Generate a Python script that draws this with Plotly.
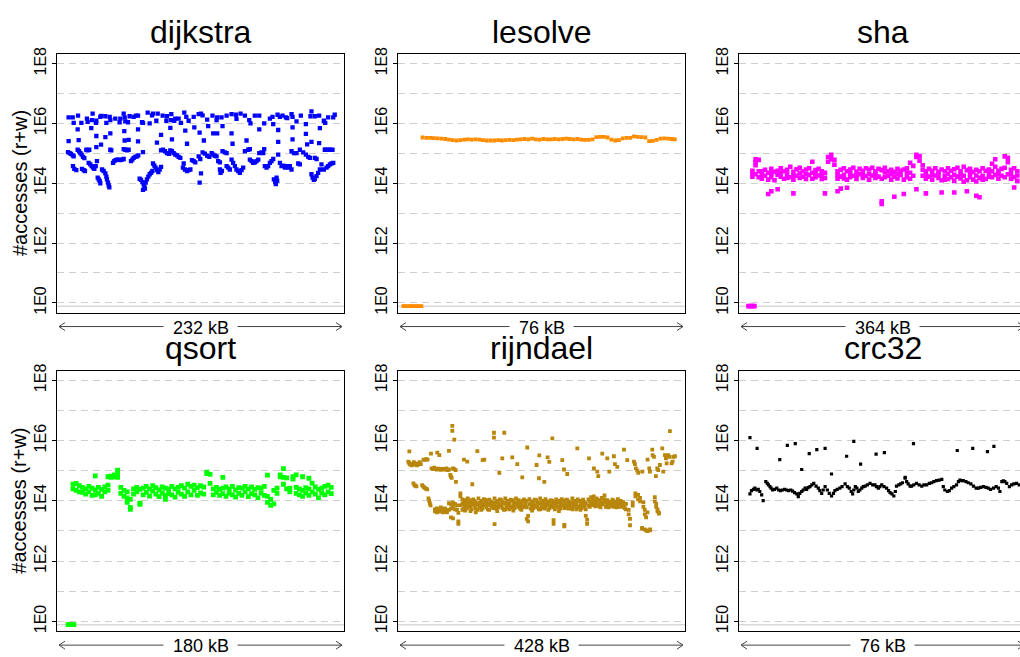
import plotly.graph_objects as go

# ---------------- data (address offset in kB, log10 of #accesses) ----------------
sizes_kb = {"dijkstra": 232, "lesolve": 76, "sha": 364, "qsort": 180, "rijndael": 428, "crc32": 76}
size_labels = {"dijkstra": "232 kB", "lesolve": "76 kB", "sha": "364 kB",
               "qsort": "180 kB", "rijndael": "428 kB", "crc32": "76 kB"}
colors = {"dijkstra": "#0000FF", "lesolve": "#FF8C00", "sha": "#FF00FF",
          "qsort": "#00FF00", "rijndael": "#B8860B", "crc32": "#000000"}
tick_vals = [1, 1e2, 1e4, 1e6, 1e8]
tick_text = ["1E0", "1E2", "1E4", "1E6", "1E8"]
minor_vals = [10, 1e3, 1e5, 1e7]
ZERO_LOG = -0.11  # pages with no accesses, drawn just under 1E0

dijkstra_upper = [(9.4,6.20),(12.7,6.20),(13.5,6.02),(17.0,6.26),(19.7,6.02),(24.2,6.16),(24.8,6.05),(28.8,6.33),(28.3,6.11),(31.8,6.09),(31.5,6.02),(35.0,6.22),(35.8,6.25),(39.1,6.24),(39.9,6.02),(42.6,6.22),(43.1,6.11),(47.1,6.16),(51.2,6.16),(50.6,6.04),(53.9,6.33),(54.7,6.20),(55.2,6.07),(58.7,6.24),(57.4,6.04),(62.0,6.22),(63.8,6.26),(65.5,6.26),(68.7,6.04),(69.5,6.02),(73.3,6.36),(74.9,6.00),(76.8,6.27),(77.6,6.33),(80.3,6.09),(81.4,6.33),(85.4,6.26),(88.4,6.09),(88.9,6.24),(92.4,6.31),(92.1,6.11),(95.6,6.16),(94.8,6.09),(98.3,6.16),(100.2,6.02),(102.9,6.36),(104.5,6.22),(106.4,6.09),(110.5,6.22),(114.5,6.31),(116.4,6.33),
                  (117.7,6.27),(121.4,6.13),(125.7,6.26),(129.0,6.11),(129.5,6.20),(133.0,6.20),(137.1,6.26),(141.1,6.31),(144.6,6.29),(145.1,6.15),(148.4,6.33),(151.9,6.26),(155.4,6.11),(156.4,6.00),(159.9,6.26),(163.5,6.26),(167.5,6.00),(172.1,6.16),(174.2,6.22),(178.3,6.29),(180.2,6.22),(182.3,6.26),(185.0,6.20),(186.1,6.18),(189.6,6.31),(190.4,6.22),(193.6,6.07),(197.1,6.26),(201.2,5.98),(204.9,6.24),(205.7,6.40),(208.4,6.24),(211.9,6.26),(215.7,6.09),(216.8,6.02),(219.2,6.20),(223.3,6.20),(224.5,6.29)]
dijkstra_mid = [(16.7,5.80),(27.7,5.84),(31.8,5.58),(39.1,5.54),(43.1,5.67),(54.4,5.74),(54.7,5.43),(57.9,5.45),(65.5,5.80),(65.5,5.40),(80.8,5.36),(84.1,5.62),(91.6,5.85),(92.9,5.47),(103.7,5.76),(105.1,5.32),(111.0,5.87),(115.3,5.69),(9.4,5.41),(17.5,5.44),(35.6,5.29),(31.8,5.21),
                (118.7,5.43),(122.2,5.91),(126.3,5.67),(129.5,5.67),(133.8,5.91),(141.1,5.67),(141.9,5.32),(153.2,5.43),(163.5,5.80),(167.5,5.14),(174.8,5.98),(178.8,5.78),(178.8,5.38),(190.4,5.87),(190.4,5.47),(201.2,5.65),(202.2,5.30),(205.7,5.38),(212.5,5.84),(211.9,5.34),(216.8,5.12),(220.6,5.12),(222.7,5.12)]
dijkstra_low = [(8.9,5.04),(10.2,5.01),(11.3,4.98),(12.7,4.93),(13.5,4.90),(12.9,4.57),(14.0,4.48),(15.6,4.44),
                (16.7,5.12),(17.8,5.07),(18.9,5.01),(19.9,4.96),(21.0,4.88),(22.1,4.84),(23.7,5.12),(24.8,5.10),(26.1,5.12),
                (20.2,4.48),(21.6,4.44),(22.6,4.41),(25.6,4.68),(26.9,4.63),(28.0,4.57),(29.1,4.52),(30.2,4.48),(31.3,4.57),(32.3,4.74),
                (32.9,4.19),(33.7,4.13),(34.5,4.08),(35.0,4.00),(36.4,4.46),(37.7,4.41),(39.1,4.33),(39.9,4.22),(40.4,4.13),(41.2,4.02),(41.8,3.93),(42.3,3.86),
                (43.1,5.12),(43.9,5.10),(45.3,4.68),(46.3,4.74),(47.4,4.77),(48.5,4.79),(49.8,4.79),(51.2,4.77),(52.5,4.79),(53.9,4.81),
                (53.9,5.14),(55.2,5.12),(56.6,5.10),(57.9,5.12),(59.8,4.74),(60.9,4.79),(62.0,4.85),(63.3,4.88),(64.7,4.90),(65.7,4.93),(69.5,5.04),
                (66.8,4.15),(67.9,4.11),(69.0,4.04),(70.0,3.97),(70.6,3.89),(71.1,3.82),(69.5,3.78),(71.7,4.02),(72.7,4.13),(73.8,4.22),(74.9,4.30),(76.0,4.35),(77.1,4.41),
                (77.6,4.66),(78.7,4.59),(79.7,4.52),(80.8,4.44),(81.9,4.37),(83.0,4.46),(84.1,4.55),
                (84.1,5.10),(85.7,5.12),(87.3,5.07),(88.9,5.01),(90.5,4.98),(91.6,5.10),(92.9,5.07),(94.3,5.01),(95.6,4.96),(97.0,4.93),(98.3,4.88),(99.7,4.85),
                (101.8,4.52),(103.4,4.46),(105.1,4.41),(106.4,4.44),(107.8,4.46),(109.1,4.77),(110.5,4.74),(111.8,4.70),(102.4,4.66),
                (114.5,4.90),(115.8,4.81),(116.4,4.33),(115.3,4.02),
                (117.7,5.03),(119.5,4.99),(121.4,4.92),(123.1,4.88),(125.0,5.01),(126.3,4.96),(127.6,4.92),(129.0,4.90),(130.3,4.74),(131.7,4.70),
                (131.7,4.46),(132.2,4.35),(133.3,4.41),(133.8,5.07),(135.7,5.03),(137.1,5.01),
                (137.1,4.57),(138.4,4.52),(139.7,4.46),(141.1,4.79),(142.4,4.68),(143.8,4.57),(145.1,4.46),(146.5,4.41),(147.8,4.35),(149.2,4.44),(150.5,4.52),
                (151.9,5.07),(154.6,5.12),(155.9,5.14),(155.9,4.79),(157.3,4.74),(158.6,4.68),(160.0,4.70),(161.3,4.74),(162.7,4.79),
                (163.5,5.01),(165.3,5.03),(166.7,5.01),(168.0,4.57),(169.4,4.52),(170.7,4.57),(172.1,4.68),(173.4,4.74),(174.8,4.81),
                (175.3,4.13),(176.4,4.04),(176.9,3.97),(178.0,4.08),(177.5,4.19),
                (178.8,4.96),(180.2,4.68),(181.5,4.57),(182.9,4.59),(184.2,4.52),(185.5,4.57),(186.9,4.52),(188.2,4.57),(189.6,4.46),
                (189.6,5.07),(191.5,5.01),(193.6,5.01),(195.0,4.66),(196.3,4.63),
                (196.3,5.12),(199.0,5.03),(201.2,4.96),(203.1,4.88),(204.4,4.85),
                (205.7,4.30),(206.6,4.19),(207.6,4.11),(208.4,4.15),(209.8,4.24),(211.1,4.35),(212.5,4.46),(213.8,4.63),
                (208.4,4.85),(209.8,4.81),(216.5,5.12),(219.2,5.12),
                (215.7,4.46),(217.9,4.52),(219.2,4.57),(220.6,4.63),(221.9,4.66),(223.3,4.68)]

lesolve_zero_kb = [1.4, 2.0, 2.6, 3.2, 3.8, 4.4, 5.0, 5.6, 6.2]
lesolve_band = [(6.5,5.53),(7.5,5.52),(8.5,5.52),(9.5,5.51),(10.5,5.50),(11.5,5.49),(12.5,5.48),(13.5,5.46),(14.5,5.44),(15.5,5.43),(16.5,5.44),(17.5,5.46),(18.5,5.47),(19.5,5.46),(20.5,5.47),(21.5,5.46),(22.5,5.44),(23.5,5.43),(24.5,5.43),(25.5,5.43),(26.5,5.44),(27.5,5.43),(28.5,5.44),(29.5,5.45),(30.5,5.44),(31.5,5.46),(32.5,5.47),(33.5,5.48),(34.5,5.47),(35.5,5.49),(36.5,5.47),(37.5,5.46),(38.5,5.48),(39.5,5.47),(40.5,5.47),(41.5,5.48),(42.5,5.47),(43.5,5.48),(44.5,5.49),(45.5,5.48),(46.5,5.47),(47.5,5.48),(48.5,5.46),(49.5,5.45),(50.5,5.45),(51.5,5.47),(52.5,5.54),(53.5,5.55),(54.5,5.55),(55.5,5.53),(56.5,5.46),(57.5,5.43),(58.5,5.44),(59.5,5.50),(60.5,5.52),(61.5,5.52),(62.5,5.57),(63.5,5.55),(64.5,5.54),(65.5,5.53),(66.5,5.41),(67.5,5.42),(68.5,5.45),(69.5,5.49),(70.5,5.50),(71.5,5.49),(72.5,5.48),(73.3,5.47)]

sha_zero_kb = [12.0, 14.5, 17.0, 19.5]
sha_band = [(17,[4.42,4.22,4.32]),(21,[4.60,4.30,4.80,4.70]),(25,[4.78,4.40,4.20]),(29,[4.40,4.15,4.28]),(33,[4.45,4.25]),(37,[4.35,4.12,3.64]),(41,[4.48,4.20,3.73,4.33]),(45,[4.38,4.10]),(49,[4.42,4.28,3.80]),(53,[4.50,4.22,4.36]),(57,[4.40,4.15]),(61,[4.45,4.30,4.18]),(65,[4.55,4.20]),(69,[4.38,4.12,3.66,4.26]),(73,[4.47,4.25]),(77,[4.52,4.18,4.34]),(81,[4.40,4.22]),(85,[4.46,4.14,4.30]),(89,[4.50,4.28]),(93,[4.72,4.35,4.15]),(97,[4.44,4.20,4.32]),(101,[4.48,4.26]),(105,[4.40,4.14,4.28]),(109,[4.35,4.18,3.66]),(113,[4.72,4.88]),(117,[4.95,4.80]),(121,[4.78,4.62]),(125,[4.40,4.15,3.73,4.28]),(129,[4.45,4.22,3.82]),(133,[4.50,4.28,4.16]),(137,[4.40,4.12,3.85]),(141,[4.46,4.20,4.33]),(145,[4.52,4.25]),(149,[4.38,4.14,4.26]),(153,[4.48,4.30]),(157,[4.42,4.18,4.30]),(161,[4.50,4.24]),(165,[4.46,4.12,4.30]),(169,[4.52,4.26]),(173,[4.40,4.18,4.30]),(177,[4.48,4.22]),(181,[4.44,4.15,3.31,3.40]),(185,[4.52,4.20,4.36]),(189,[4.40,4.25]),(193,[4.45,4.12,4.30]),(197,[4.38,4.22,3.55]),(201,[4.48,4.16,4.32]),(205,[4.42,4.28]),(209,[4.46,4.12,3.64]),(213,[4.50,4.20,4.35]),(217,[4.68,4.35,4.15]),(221,[4.58,4.25]),(225,[4.95,4.88,3.80]),(229,[4.90,4.75]),(233,[4.60,4.45,4.25]),(237,[4.40,4.15,3.66,4.28]),(241,[4.48,4.22]),(245,[4.42,4.12,4.28]),(249,[4.50,4.26]),(253,[4.38,4.18,4.30]),(257,[4.46,4.10,3.69]),(261,[4.40,4.24,4.12]),(265,[4.50,4.14,4.32]),(269,[4.42,4.20]),(273,[4.47,4.08,3.69,4.28]),(277,[4.52,4.22]),(281,[4.40,4.16,4.30]),(285,[4.55,4.05,4.25]),(289,[4.44,4.10,3.73]),(293,[4.48,4.20,4.34]),(297,[4.38,4.12]),(301,[4.45,4.06,3.58,4.26]),(305,[4.40,4.18,3.53]),(309,[4.50,4.25,4.12]),(313,[4.42,4.14]),(317,[4.46,4.22,4.34]),(321,[4.65,4.40,4.20]),(325,[4.80,4.55,4.28]),(329,[4.42,4.15,4.30]),(333,[4.48,4.25]),(337,[4.90,4.52,4.20]),(341,[4.85,4.70,4.30]),(345,[4.45,4.15,4.30]),(349,[4.50,4.20,3.86]),(353,[4.40,4.08,4.26])]

qsort_zero_kb = [7.0, 8.2, 9.4, 10.6]
qsort_band = [(10,[4.55,4.40]),(12,[4.58,4.35]),(14,[4.50,4.30]),(16,[4.45,4.28]),(18,[4.40,4.22]),(20,[4.48,4.30]),(22,[4.42,4.18]),(24,[4.83,4.36,4.20]),(26,[4.45,4.25]),(28,[4.38,4.15]),(30,[4.46,4.30]),(32,[4.52,4.35,4.80]),(34,[4.78,4.82]),(36,[4.86,4.80]),(38,[4.90,5.02,4.78]),(40,[4.45,4.25]),(42,[4.35,4.15]),(44,[4.30,4.10,3.95]),(46,[4.05,3.78,3.72]),(48,[4.40,4.22]),(50,[4.45,4.30]),(52,[4.38,3.92,3.88]),(54,[4.42,4.20]),(56,[4.48,4.28]),(58,[4.40,4.16]),(60,[4.50,4.32]),(62,[4.44,4.22]),(64,[4.36,4.14]),(66,[4.46,4.26]),(68,[4.42,4.18,4.05]),(70,[4.38,4.24]),(72,[4.48,4.20]),(74,[4.40,4.12]),(76,[4.45,4.28]),(78,[4.50,4.22]),(80,[4.42,4.15]),(82,[4.55,4.30]),(84,[4.48,4.20]),(86,[4.52,4.35]),(88,[4.44,4.18]),(90,[4.50,4.26]),(92,[4.46,4.22]),(94,[4.95,4.90]),(96,[4.88,4.58]),(98,[4.40,4.20]),(100,[4.45,4.28]),(102,[4.38,4.18]),(104,[4.78,4.42,4.24]),(106,[4.46,4.15]),(108,[4.40,4.26]),(110,[4.48,4.20]),(112,[4.36,4.12]),(114,[4.44,4.25]),(116,[4.42,4.18]),(118,[4.48,4.30]),(120,[4.40,4.14]),(122,[4.46,4.24]),(124,[4.38,4.20]),(126,[4.44,4.10]),(128,[4.42,4.26]),(130,[4.48,4.18]),(132,[4.85,4.15,3.95]),(134,[4.05,3.85]),(136,[4.35,3.90]),(138,[4.42,4.25]),(140,[4.80,4.86]),(142,[4.78,5.07,4.55]),(144,[4.76,4.40]),(146,[4.42,4.30]),(148,[4.80,4.72]),(150,[4.86,4.45,4.25]),(152,[4.40,4.20]),(154,[4.80,4.35,4.15]),(156,[4.44,4.26]),(158,[4.75,4.40,4.18]),(160,[4.59,4.30]),(162,[4.46,4.22]),(164,[4.38,4.10]),(166,[4.42,4.26]),(168,[4.48,4.20]),(170,[4.52,4.30]),(172,[4.45,4.24])]

rijndael_upper = [(16.9,5.64),(49.2,5.57),(58.6,5.60),(61.6,5.52),(76.0,5.66),(81.0,6.49),(81.0,6.32),(84.0,6.03),(86.4,4.63),(98.4,5.37),(103.3,5.30),(110.8,4.55),(118.3,5.65),(126.2,5.35),(128.7,5.37),(143.1,6.26),(143.1,6.10),(151.1,4.93),(155.5,5.41),(158.5,6.26),(170.4,5.44),(177.9,5.22),(185.3,4.78),(192.8,5.77),(206.7,5.19),(210.2,4.75),(210.7,5.51),(218.2,4.63),(223.1,5.44),(225.6,5.29),(230.1,6.07),(245.0,5.35),(247.5,5.04),(252.4,4.89),(267.4,5.74),(284.8,5.41),(292.2,5.08),(297.2,4.97),(298.7,4.82),(304.6,5.57),(312.1,5.41),(315.1,4.97),(322.0,5.48),(323.5,5.22),(327.0,5.13),(337.0,5.70),(341.9,5.35),(351.9,5.30),(353.3,5.22),(354.8,5.08),(356.8,5.00),(358.3,4.93),(364.3,4.97),(372.2,5.37),(374.7,5.08),(375.7,4.97),(379.2,5.70),(379.7,5.52),(381.7,5.46),(384.6,4.82),(386.6,5.08),(388.1,5.02),(390.6,5.19),(394.1,5.74),(395.6,4.97),(398.1,5.52),(399.6,5.41),(400.6,5.24),(403.0,5.52),(404.5,5.46),(405.5,6.31),(408.0,5.24),(409.5,5.30),(410.5,5.46),(413.0,5.48)]
rijndael_left = [(15.4,5.30),(16.5,5.26),(17.5,5.22),(18.5,5.20),(19.5,5.22),(20.5,5.18),(22.0,5.20),(23.5,5.28),(25.0,5.25),(26.5,5.22),(28.0,5.18),(29.5,5.20),(31.0,5.24),(32.5,5.28),(34.0,5.22),
                 (23.0,4.58),(24.5,4.52),(26.0,4.50),(27.5,4.48),(36.0,4.52),(37.5,4.48),(39.0,4.45),(40.5,4.42),(42.0,4.40),(43.5,4.38),
                 (38.0,5.37),(40.0,5.36),(42.0,5.38),(44.0,5.37),(45.5,4.08),(46.5,4.00),(47.5,3.92),(48.5,3.85),
                 (50.0,5.08),(52.0,5.05),(54.0,5.10),(56.0,5.06),(58.0,5.04),(60.0,5.07),(62.0,5.05),(64.0,5.03),(66.0,5.06),(68.0,5.05),(70.0,5.04),(72.0,5.08),(74.0,5.02),(76.0,5.04),(78.0,4.86),(79.0,4.80),(80.0,4.76),(82.0,5.08),(84.0,5.05),(86.0,5.02)]
rijndael_band = [(55,[3.72,3.65]),(58,[3.75,3.62]),(61,[3.70,3.64]),(64,[3.78,3.66]),(67,[3.72,3.62]),(70,[3.75,3.66]),(73,[3.70,3.62]),(76,[3.92,3.70]),(79,[3.88,3.74,3.45]),(82,[3.95,3.80,3.42]),(85,[3.90,3.72]),(88,[3.85,3.70]),(90,[3.32,3.24,3.60]),(93,[4.25,4.15,3.85]),(96,[4.05,3.90,3.70]),(100,[4.02,3.85,3.68]),(104,[4.08,3.92,3.78]),(108,[3.98,3.82,3.66]),(112,[4.05,3.88]),(116,[3.95,3.76,3.62]),(120,[4.08,3.90]),(124,[4.00,3.82,3.70]),(128,[4.06,3.86]),(132,[3.98,3.78]),(136,[4.04,3.90,3.70]),(140,[3.96,3.82]),(144,[4.08,3.86,3.23]),(148,[4.00,3.80,3.66]),(152,[4.05,3.88]),(156,[3.96,3.76]),(160,[4.08,3.90,3.72]),(164,[4.00,3.84]),(168,[4.04,3.78]),(172,[3.98,3.86,3.68]),(176,[4.08,3.90]),(180,[4.02,3.80]),(184,[3.96,3.86,3.70]),(188,[4.05,3.82]),(192,[4.00,3.78,3.40]),(194,[3.32,3.50]),(196,[4.06,3.88]),(200,[3.98,3.80,3.68]),(204,[4.04,3.86]),(208,[3.96,3.78]),(212,[4.08,3.90,3.72]),(216,[4.00,3.84]),(220,[4.06,3.80]),(224,[3.98,3.88,3.70]),(228,[4.02,3.82]),(232,[3.96,3.78,3.24,3.36]),(236,[4.05,3.86]),(240,[4.00,3.80,3.66]),(244,[4.06,3.88]),(248,[3.98,3.76,3.15,3.20]),(252,[4.04,3.86]),(256,[3.96,3.82]),(260,[4.08,3.90,3.72]),(264,[4.00,3.84]),(268,[4.05,3.80]),(272,[3.98,3.86,3.70]),(276,[4.04,3.88]),(280,[3.92,3.72,3.50]),(282,[3.24,3.38]),(284,[4.05,3.85]),(288,[4.12,3.92]),(292,[4.15,4.00,3.88]),(296,[4.08,3.90]),(300,[4.00,3.82]),(304,[4.10,3.92]),(308,[4.18,4.05]),(312,[4.02,3.86]),(316,[3.96,3.82]),(320,[4.04,3.90]),(324,[3.98,3.84]),(328,[4.06,3.88]),(332,[4.00,3.86]),(336,[3.96,3.80]),(340,[3.90,3.72]),(344,[3.70,3.55]),(346,[3.40,3.19]),(350,[3.95,3.84]),(354,[4.25,4.15]),(358,[4.20,4.05]),(361,[4.10,3.98]),(364,[3.10,3.08]),(366,[3.95,3.80]),(368,[3.70,3.55,3.05]),(370,[3.45,3.02]),(372,[3.62,3.00]),(376,[3.02,3.05]),(383,[4.12,3.98]),(385,[3.90,3.80]),(387,[3.72,3.65]),(389,[3.60,3.58])]
rijndael_band_extra = [(98,[3.95,3.76]),(102,[3.90,3.74]),(106,[4.02,3.88]),(110,[3.92,3.72]),(114,[4.00,3.84]),(118,[3.88,3.70]),(122,[3.94,3.78]),(126,[3.90,3.74]),(130,[4.03,3.92]),(134,[3.88,3.72]),(138,[3.98,3.86]),(142,[3.92,3.76]),(146,[3.94,3.74]),(150,[3.90,3.78]),(154,[4.02,3.84]),(158,[3.92,3.70]),(162,[3.96,3.78]),(166,[3.90,3.72]),(170,[4.02,3.80]),(174,[3.94,3.76]),(178,[3.96,3.84]),(182,[3.90,3.74]),(186,[4.00,3.78]),(190,[3.94,3.86]),(198,[3.92,3.74]),(202,[3.90,3.76]),(206,[4.02,3.82]),(210,[3.92,3.72]),(214,[3.96,3.78]),(218,[3.92,3.74]),(222,[3.94,3.86]),(226,[3.90,3.76]),(230,[4.00,3.86]),(234,[3.92,3.72]),(238,[3.96,3.80]),(242,[3.92,3.74]),(246,[4.02,3.84]),(250,[3.90,3.78]),(254,[3.98,3.74]),(258,[3.92,3.76]),(262,[3.96,3.80]),(266,[3.92,3.72]),(270,[4.00,3.78]),(274,[3.92,3.76]),(278,[3.96,3.82]),(286,[3.98,3.80]),(290,[4.05,3.86]),(294,[3.98,3.82]),(298,[4.04,3.86]),(302,[3.94,3.78]),(306,[4.02,3.88]),(310,[3.96,3.80]),(314,[3.92,3.78]),(318,[3.98,3.84]),(322,[3.92,3.80]),(326,[3.96,3.78]),(330,[3.92,3.80]),(334,[3.94,3.82]),(338,[3.88,3.76])]

crc32_band = [(2.9,4.23),(3.3,4.34),(3.8,4.38),(4.2,4.42),(4.7,4.36),(5.1,4.38),(5.5,4.31),(6.0,4.20),(6.4,4.01),(7.1,4.64),(7.5,4.58),(7.8,4.53),(8.2,4.47),(8.5,4.42),(8.9,4.36),(9.4,4.38),(10.0,4.42),(10.5,4.36),(11.0,4.34),(11.5,4.36),(12.1,4.38),(12.6,4.36),(13.1,4.34),(13.7,4.36),(14.2,4.32),(14.7,4.27),(15.3,4.23),(15.7,4.14),(16.1,4.25),(16.6,4.31),(17.0,4.36),(17.5,4.42),(17.9,4.38),(18.3,4.44),(18.8,4.47),(19.3,4.53),(19.8,4.58),(20.4,4.49),(21.0,4.42),(21.4,4.34),(21.9,4.25),(22.3,4.36),(22.8,4.47),(23.4,4.36),(23.9,4.25),(24.5,4.16),(25.0,4.25),(25.4,4.34),(26.0,4.38),(26.7,4.42),(27.3,4.47),(28.1,4.56),(28.7,4.47),(29.2,4.42),(29.7,4.31),(30.1,4.23),(30.4,4.36),(30.8,4.47),(31.2,4.42),(31.6,4.31),(32.0,4.36),(32.5,4.42),(32.9,4.47),(33.4,4.49),(34.0,4.53),(34.7,4.58),(35.4,4.53),(36.0,4.53),(36.4,4.47),(36.9,4.42),(37.3,4.47),(37.8,4.53),(38.4,4.47),(39.1,4.42),(39.6,4.34),(40.0,4.27),(40.5,4.23),(41.0,4.16),(41.4,4.31),(41.7,4.49),(42.3,4.53),(42.8,4.56),(43.3,4.60),(44.0,4.75),(44.4,4.64),(44.8,4.56),(45.3,4.49),(45.7,4.49),(46.3,4.53),(47.0,4.58),(47.7,4.53),(48.4,4.49),(49.0,4.53),(49.7,4.53),(50.4,4.58),(51.0,4.60),(51.6,4.64),(52.3,4.67),(53.0,4.69),(53.7,4.71),(54.1,4.47),(54.5,4.36),(55.2,4.31),(55.7,4.34),(56.3,4.42),(56.9,4.47),(57.6,4.53),(58.1,4.64),(58.5,4.69),(59.0,4.67),(59.4,4.67),(60.1,4.64),(60.7,4.60),(61.4,4.56),(62.1,4.49),(62.8,4.42),(63.4,4.42),(64.0,4.45),(64.7,4.47),(65.4,4.45),(66.0,4.42),(66.6,4.38),(67.4,4.42),(68.1,4.47),(68.7,4.42),(69.1,4.31),(69.6,4.64),(70.0,4.66),(70.4,4.64),(70.9,4.58),(71.6,4.47),(72.2,4.53),(72.8,4.56),(73.5,4.58),(74.2,4.53)]
crc32_upper = [(2.9,6.10),(4.8,5.74),(10.8,5.37),(12.8,5.84),(14.9,5.90),(16.6,5.04),(18.6,5.57),(20.6,5.70),(22.8,5.74),(24.5,4.89),(28.5,5.48),(30.4,5.97),(32.2,5.22),(36.3,5.55),(38.5,5.60),(44.0,4.78),(46.2,5.90),(57.8,5.67),(61.9,5.74),(65.8,5.63),(67.5,5.81)]

# ---------------- helpers ----------------
def pairs(*groups):
    xs, ys = [], []
    for g in groups:
        for kb, lg in g:
            xs.append(kb)
            ys.append(10 ** lg)
    return xs, ys

def columns(*bands):
    xs, ys = [], []
    for band in bands:
        for kb, logs in band:
            for lg in logs:
                xs.append(kb)
                ys.append(10 ** lg)
    return xs, ys

def zeros(kbs):
    return list(kbs), [10 ** ZERO_LOG] * len(kbs)

# ---------------- layout geometry (pixels) ----------------
W, H = 1020, 657
col_px = [(57, 344), (398, 685), (739, 1026)]
row_px = [(48, 310), (369, 633)]
YRANGE = [-0.33, 8.31]
FONT = "Liberation Sans, Arial, sans-serif"

panels = [
    ("dijkstra", 0, 0, 4.3, [pairs(dijkstra_upper, dijkstra_mid, dijkstra_low)]),
    ("lesolve", 0, 1, 3.8, [pairs(lesolve_band), zeros(lesolve_zero_kb)]),
    ("sha", 0, 2, 4.6, [columns(sha_band), zeros(sha_zero_kb)]),
    ("qsort", 1, 0, 4.8, [columns(qsort_band), zeros(qsort_zero_kb)]),
    ("rijndael", 1, 1, 3.8, [pairs(rijndael_upper, rijndael_left), columns(rijndael_band, rijndael_band_extra)]),
    ("crc32", 1, 2, 3.2, [pairs(crc32_band, crc32_upper)]),
]

fig = go.Figure()
annotations = []
shapes = []

def px(x):
    return x / W

def py(y):
    return 1 - y / H

def text_w(s, size):
    wd = {" ": 0.278, "k": 0.5, "B": 0.667}
    return sum(wd.get(c, 0.556) for c in s) * size

for i, (name, r, c, msize, series) in enumerate(panels, start=1):
    x0, x1 = col_px[c]
    y0, y1 = row_px[r]
    x1c = min(x1, W)
    xr = [0, sizes_kb[name] * (x1c - x0) / (x1 - x0)]
    xa = "xaxis" if i == 1 else f"xaxis{i}"
    ya = "yaxis" if i == 1 else f"yaxis{i}"
    xref = "x" if i == 1 else f"x{i}"
    yref = "y" if i == 1 else f"y{i}"
    fig.update_layout({
        xa: dict(domain=[px(x0), px(x1c)], range=xr, showgrid=False, zeroline=False,
                 showticklabels=False, ticks="", showline=True, linecolor="black",
                 linewidth=1, mirror=True, anchor=yref, fixedrange=True),
        ya: dict(domain=[py(y1), py(y0)], type="log", range=YRANGE, anchor=xref,
                 tickvals=tick_vals, ticktext=tick_text, tickangle=-90,
                 ticks="outside", ticklen=4, tickcolor="black", tickwidth=1,
                 tickfont=dict(family=FONT, size=16, color="black"),
                 showline=True, linecolor="black", linewidth=1, mirror=(c < 2),
                 zeroline=False, showgrid=True, gridcolor="#cfcfcf", gridwidth=1,
                 griddash="7px,5px",
                 minor=dict(tickvals=minor_vals, showgrid=True, gridcolor="#cfcfcf",
                            gridwidth=1, griddash="7px,5px", ticks=""),
                 fixedrange=True),
    })
    # solid light line under the zero-access row
    zf = (ZERO_LOG - YRANGE[0]) / (YRANGE[1] - YRANGE[0])
    shapes.append(dict(type="line", xref=f"{xref} domain", yref=f"{yref} domain",
                       x0=0, x1=1, y0=zf, y1=zf,
                       line=dict(color="#d9d9d9", width=1.5), layer="below"))
    for xs, ys in series:
        fig.add_trace(go.Scatter(x=xs, y=ys, mode="markers", xaxis=xref, yaxis=yref,
                                 marker=dict(symbol="square", size=msize, color=colors[name],
                                             line=dict(width=0)),
                                 showlegend=False, hoverinfo="skip"))
    cx = (x0 + x1) / 2
    # title
    annotations.append(dict(text=name, x=px(cx), y=py(y0 - 23), xref="paper", yref="paper",
                            showarrow=False, xanchor="center", yanchor="middle",
                            font=dict(family=FONT, size=32, color="black")))
    # address-range label with double arrow
    ly = y1 + 15
    lab = size_labels[name]
    annotations.append(dict(text=lab, x=px(cx), y=py(ly), xref="paper", yref="paper",
                            showarrow=False, xanchor="center", yanchor="middle",
                            font=dict(family=FONT, size=18, color="black")))
    half = text_w(lab, 18) / 2 + 9
    ax0, ax1 = x0 + 2, x1 - 2
    lcol = "#444444"
    shapes.append(dict(type="line", xref="paper", yref="paper", x0=px(ax0), x1=px(cx - half),
                       y0=py(ly - 1), y1=py(ly - 1), line=dict(color=lcol, width=1)))
    shapes.append(dict(type="line", xref="paper", yref="paper", x0=px(cx + half), x1=px(ax1),
                       y0=py(ly - 1), y1=py(ly - 1), line=dict(color=lcol, width=1)))
    shapes.append(dict(type="path", xref="paper", yref="paper",
                       path=f"M {px(ax0+6)} {py(ly-5)} L {px(ax0)} {py(ly-1)} L {px(ax0+6)} {py(ly+3)}",
                       line=dict(color=lcol, width=1)))
    shapes.append(dict(type="path", xref="paper", yref="paper",
                       path=f"M {px(ax1-6)} {py(ly-5)} L {px(ax1)} {py(ly-1)} L {px(ax1-6)} {py(ly+3)}",
                       line=dict(color=lcol, width=1)))
    if c == 0:
        annotations.append(dict(text="#accesses (r+w)", x=px(19.5), y=py((y0 + y1) / 2),
                                xref="paper", yref="paper", showarrow=False, textangle=-90,
                                xanchor="center", yanchor="middle",
                                font=dict(family=FONT, size=20, color="black")))

fig.update_layout(width=W, height=H, margin=dict(l=0, r=0, t=0, b=0),
                  paper_bgcolor="white", plot_bgcolor="white",
                  annotations=annotations, shapes=shapes, showlegend=False)
fig.write_html("out.html", config={"displayModeBar": False})
